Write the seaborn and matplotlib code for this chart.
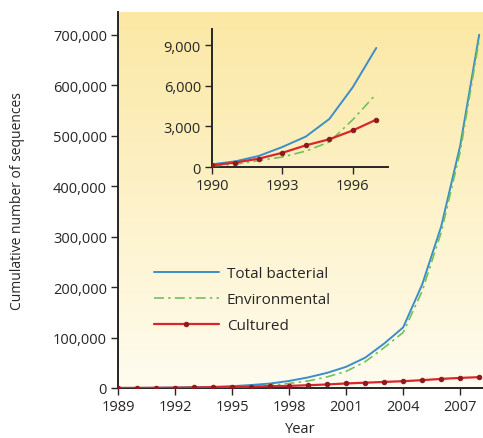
import numpy as np
import pandas as pd
import matplotlib
matplotlib.use("Agg")
import matplotlib.pyplot as plt
import seaborn as sns
from matplotlib.colors import LinearSegmentedColormap

# values (cumulative sequences)
years = list(range(1989, 2009))
total = [100, 200, 420, 820, 1480, 2250, 3550, 5900, 8800, 14000, 21000,
         30000, 42000, 60000, 88000, 120000, 205000, 320000, 480000, 700000]
environmental = [50, 80, 200, 480, 740, 1180, 1850, 3500, 5400, 9000, 14000,
                 22000, 33000, 52000, 80000, 110000, 192000, 308000, 468000, 690000]
cultured = [50, 120, 330, 620, 1050, 1600, 2050, 2700, 3500, 4200, 5500,
            7000, 9000, 10500, 12000, 13500, 15500, 18000, 20000, 21500]

df = pd.DataFrame({"Year": years, "Total bacterial": total,
                   "Environmental": environmental, "Cultured": cultured})
inset_df = df[(df["Year"] >= 1990) & (df["Year"] <= 1997)]

sns.set_style("ticks")
plt.rcParams["font.family"] = ["Open Sans", "DejaVu Sans"]
plt.rcParams["font.size"] = 10.5

blue = "#3b8ec8"
green = "#74c05a"
red = "#d9262c"
dotc = "#8e1a1e"

fig = plt.figure(figsize=(4.83, 4.39), dpi=100)
ax = fig.add_axes([0.2443, 0.1139, 0.7557, 0.8565])

# cream/yellow background gradient
cmap = LinearSegmentedColormap.from_list("bg", ["#fffcf0", "#fdf2c8", "#fbe8a4"])
grad = np.linspace(0, 1, 256).reshape(-1, 1)
ax.imshow(grad, extent=[0, 1, 0, 1], transform=ax.transAxes, origin="lower",
          cmap=cmap, aspect="auto", zorder=0)


def draw(a, d, ms):
    sns.lineplot(data=d, x="Year", y="Total bacterial", ax=a, color=blue, lw=1.4,
                 label="Total bacterial", zorder=3)
    sns.lineplot(data=d, x="Year", y="Environmental", ax=a, color=green, lw=1.2,
                 linestyle=(0, (6, 2.5, 1.5, 2.5)), label="Environmental", zorder=4)
    sns.lineplot(data=d, x="Year", y="Cultured", ax=a, color=red, lw=1.6,
                 marker="o", markersize=ms, markerfacecolor=dotc,
                 markeredgecolor=dotc, label="Cultured", zorder=5)


draw(ax, df, 3.2)
ax.set_xlim(1989, 2008.2)
ax.set_ylim(0, 745000)
ax.set_xticks(range(1989, 2008, 3))
ax.set_yticks(range(0, 700001, 100000))
ax.set_yticklabels([f"{v:,}" for v in range(0, 700001, 100000)])
ax.set_xlabel("Year", labelpad=5)
ax.set_ylabel("Cumulative number of sequences", labelpad=20, fontsize=10)
sns.despine(ax=ax)
for s in ["left", "bottom"]:
    ax.spines[s].set_linewidth(1.4)
ax.tick_params(length=5, width=1, pad=3, labelsize=10.5)
ax.legend(loc="upper left", bbox_to_anchor=(0.06, 0.36), frameon=False,
          handlelength=4.3, handletextpad=0.5, labelspacing=0.72, fontsize=11)

ins = fig.add_axes([0.4389, 0.6173, 0.3644, 0.3144])
ins.patch.set_alpha(0)
draw(ins, inset_df, 3.2)
ins.get_legend().remove()
ins.set_xlim(1990, 1997.5)
ins.set_ylim(0, 10200)
ins.set_xticks([1990, 1993, 1996])
ins.set_yticks([0, 3000, 6000, 9000])
ins.set_yticklabels(["0", "3,000", "6,000", "9,000"])
ins.set_xlabel("")
ins.set_ylabel("")
sns.despine(ax=ins)
for s in ["left", "bottom"]:
    ins.spines[s].set_linewidth(1.4)
ins.tick_params(length=5, width=1, pad=3, labelsize=10.5)

fig.savefig("out.png", dpi=100)
